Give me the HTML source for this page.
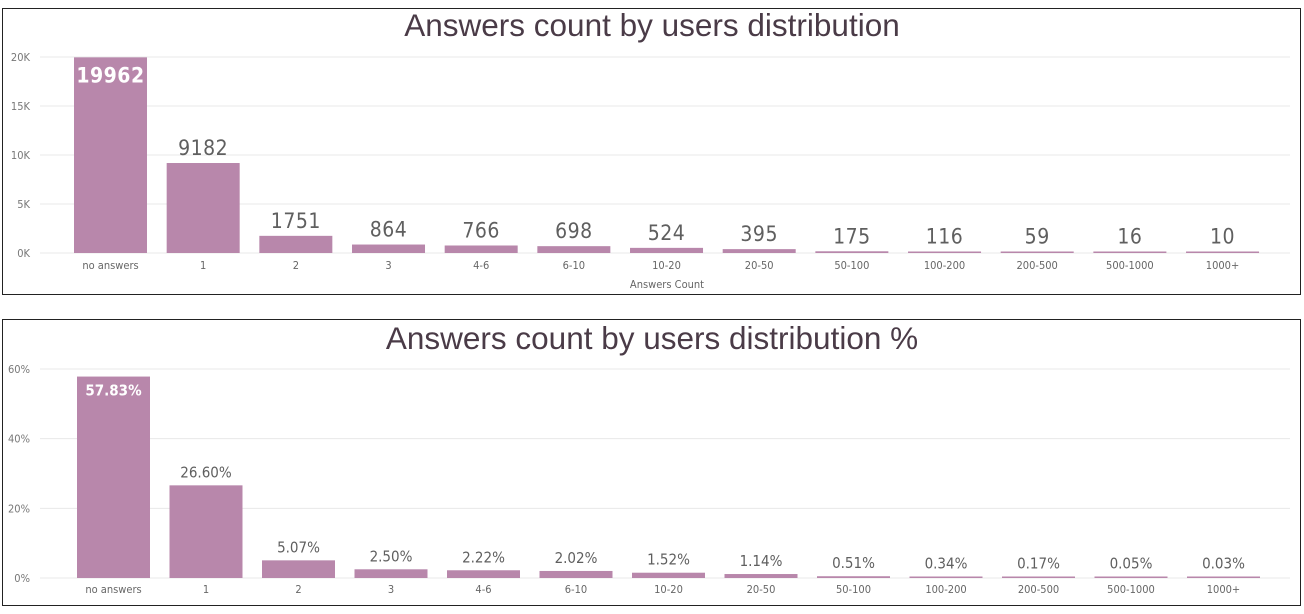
<!DOCTYPE html>
<html><head><meta charset="utf-8"><style>
body{margin:0;background:#fff;width:1304px;height:614px;overflow:hidden}
svg{display:block}
text{font-family:"DejaVu Sans Condensed","Liberation Sans",sans-serif}
</style></head><body>
<svg id="s" width="1304" height="614" xmlns="http://www.w3.org/2000/svg">
<rect x="2.5" y="8.5" width="1298" height="286" fill="#fff" stroke="#222" stroke-width="1"/>
<rect x="2.5" y="319.5" width="1298" height="286" fill="#fff" stroke="#222" stroke-width="1"/>
<text x="652" y="36" text-anchor="middle" font-size="31.5" fill="#4a3b47" style="font-family:'Liberation Sans',sans-serif">Answers count by users distribution</text>
<text x="652" y="349" text-anchor="middle" font-size="31.5" fill="#4a3b47" style="font-family:'Liberation Sans',sans-serif">Answers count by users distribution %</text>
<text x="667" y="288" text-anchor="middle" font-size="11" fill="#666">Answers Count</text>
</svg>
<script>
const s=document.getElementById('s');const NS='http://www.w3.org/2000/svg';
function el(t,a,txt){const e=document.createElementNS(NS,t);for(const k in a)e.setAttribute(k,a[k]);if(txt!=null)e.textContent=txt;s.appendChild(e);return e;}
const cats=['no answers','1','2','3','4-6','6-10','10-20','20-50','50-100','100-200','200-500','500-1000','1000+'];
const v1=[19962,9182,1751,864,766,698,524,395,175,116,59,16,10];
const v2=[57.83,26.60,5.07,2.50,2.22,2.02,1.52,1.14,0.51,0.34,0.17,0.05,0.03];
function chart(vals,max,y0,y1,x0,step,ticks,tl,lbl,fs,catY,ls){
 const h=y0-y1;
 ticks.forEach((t,i)=>{const y=y0-t/max*h;el('line',{x1:40,x2:1290,y1:y,y2:y,stroke:'#e8e8e8','stroke-width':1});
  el('text',{x:30,y:y+4,'font-size':11,fill:'#777','text-anchor':'end'},tl[i]);});
 vals.forEach((v,i)=>{const x=x0+i*step;let bh=Math.max(v/max*h,1.5);const top=y0-bh;
  el('rect',{x:x,y:top,width:73,height:bh,fill:'#b887ab'});
  const inside=i==0;
  el('text',{x:x+36.5,y:inside?top+fs+4:top-8,'text-anchor':'middle','font-size':fs,fill:inside?'#fff':'#5f5f5f','font-weight':inside?'600':'normal','letter-spacing':ls},lbl(v));
  el('text',{x:x+36.5,y:catY,'text-anchor':'middle','font-size':11,fill:'#666'},cats[i]);
 });
}
chart(v1,20000,253,57,74,92.67,[0,5000,10000,15000,20000],['0K','5K','10K','15K','20K'],v=>String(v),21,269,0.5);
chart(v2,60,578,369,77,92.5,[0,20,40,60],['0%','20%','40%','60%'],v=>v.toFixed(2)+'%',15,593,0);
</script>
</body></html>
